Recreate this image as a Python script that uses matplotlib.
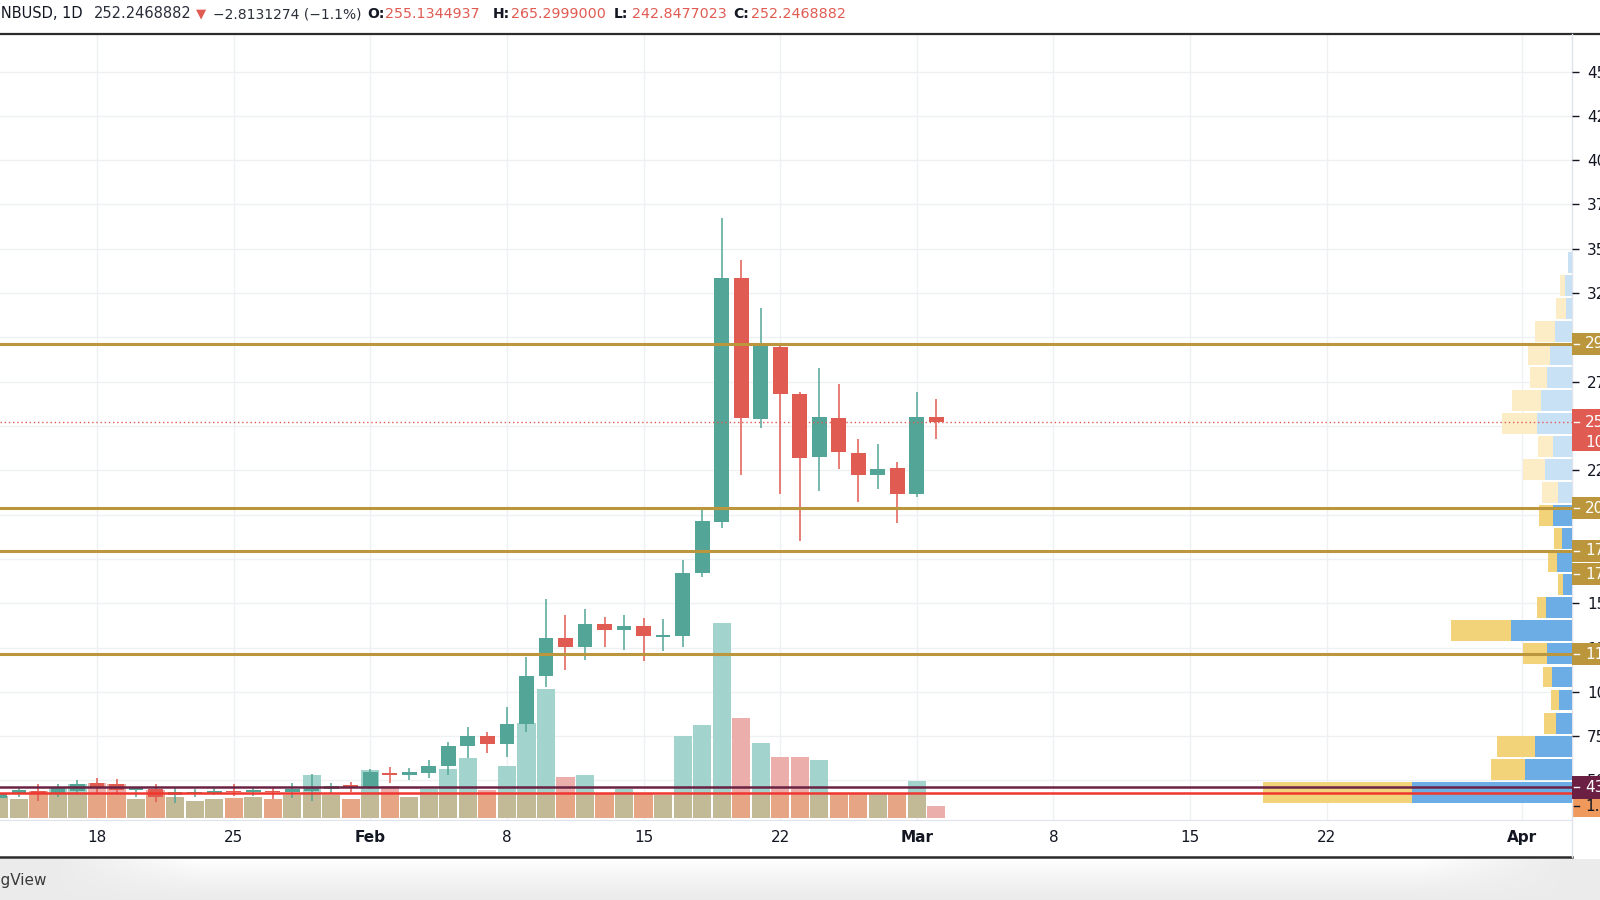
import numpy as np
import pandas as pd
import matplotlib
matplotlib.use("Agg")
import matplotlib.pyplot as plt
import matplotlib.dates as mdates
from matplotlib.lines import Line2D
from matplotlib.patches import Rectangle
from matplotlib.transforms import blended_transform_factory

plt.rcParams['font.family'] = ['DejaVu Sans']

# ---- BNBUSD daily candles ----
dates = pd.date_range('2021-01-13', '2021-03-02', freq='D')
opens = [39.9, 42.4, 44.3, 42.4, 44.3, 48.4, 48.0, 44.6, 45.0, 41.8, 42.8, 42.8, 44.3, 43.3, 44.1, 43.3, 44.3, 45.0, 47.5,
         46.0, 54.0, 53.1, 54.4, 58.2, 69.5, 75.1, 70.6, 81.7, 109.0, 130.2, 125.5, 138.3, 134.9, 137.2, 131.0, 131.5,
         166.8, 196.0, 333.7, 253.8, 294.7, 267.9, 232.3, 254.5, 234.9, 222.4, 226.3, 211.5, 255.1344937]
highs = [43.5, 46.1, 47.8, 47.8, 50.3, 51.2, 50.7, 46.5, 48.0, 45.6, 45.0, 46.0, 48.0, 46.0, 46.0, 48.4, 53.7, 48.8, 49.4,
         56.5, 57.8, 56.9, 61.6, 71.9, 80.0, 77.6, 91.3, 119.9, 152.2, 143.4, 146.6, 142.4, 143.4, 141.9, 140.9, 174.4,
         203.2, 367.2, 343.7, 316.4, 295.7, 269.4, 282.9, 273.5, 242.7, 239.8, 229.9, 269.0, 265.2999000]
lows = [39.5, 40.5, 38.4, 40.9, 42.8, 42.8, 42.8, 40.9, 37.7, 37.1, 40.9, 41.8, 41.3, 41.3, 39.6, 39.9, 38.6, 43.1, 43.7,
        45.0, 48.8, 50.3, 51.2, 53.1, 62.5, 65.7, 63.1, 77.6, 103.0, 112.3, 118.0, 125.1, 123.6, 117.4, 123.2, 125.1,
        165.0, 192.3, 222.4, 249.0, 211.6, 185.3, 213.5, 225.6, 207.3, 214.3, 195.5, 209.8, 242.8477023]
closes = [42.8, 44.6, 42.8, 45.6, 48.0, 45.6, 44.6, 45.6, 40.5, 43.7, 43.7, 44.3, 43.3, 44.6, 43.3, 45.0, 46.5, 47.1, 46.1,
          55.0, 53.1, 54.6, 58.2, 69.7, 75.1, 70.4, 81.9, 109.1, 130.2, 125.5, 138.3, 134.9, 137.4, 131.5, 131.9, 166.9,
          196.6, 333.3, 254.3, 295.7, 267.9, 231.8, 255.0, 235.3, 222.4, 225.9, 211.5, 255.0600156, 252.2468882]
# volume, millions
volumes = [2.44, 2.08, 3.03, 3.30, 3.78, 3.86, 3.78, 2.08, 3.11, 2.30, 1.92, 2.08, 2.26, 2.30, 2.14, 2.56, 4.78, 2.56, 2.08,
           5.33, 3.56, 2.30, 3.19, 5.44, 6.63, 3.11, 5.78, 10.52, 14.33, 4.59, 4.78, 2.74, 3.19, 2.74, 2.56, 9.11,
           10.33, 21.63, 11.14, 8.37, 6.81, 6.74, 6.41, 2.74, 2.74, 2.74, 2.74, 4.11, 1.33]
countdown = '10:26:41'

# ---- fixed range volume profile (rows of 13 USD) ----
vp_first_row = 37.5
vp_row_size = 13.0
vp_up = [80.0, 23.4, 18.4, 7.9, 6.4, 10.0, 12.5, 30.5, 12.9, 4.2, 7.5, 5.0, 9.2,
         7.0, 13.4, 9.2, 17.2, 15.4, 12.2, 10.9, 8.4, 2.9, 3.4, 1.7]
vp_down = [74.2, 17.0, 18.9, 5.9, 4.0, 4.5, 12.0, 30.0, 4.7, 2.5, 4.2, 3.9, 7.2,
           7.7, 10.9, 7.8, 17.8, 14.4, 8.7, 10.9, 10.0, 5.0, 2.5, 0.0]
vp_value_area_rows = 13

# ---- drawn levels ----
gold_levels = [296.3, 203.7, 179.5, 121.2]
gold_texts = ['296.30', '203.70', '179.50', '119.20']
extra_label = (166.5, '175.10')
maroon_level = 46.2
red_level = 43.2
maroon_text = '43.2000'

price_ticks = list(range(50, 451, 25))
hidden_ticks = [300, 250, 200, 175]   # covered by the scale labels
tick_dates = ['2021-01-18', '2021-01-25', '2021-02-01', '2021-02-08', '2021-02-15', '2021-02-22',
              '2021-03-01', '2021-03-08', '2021-03-15', '2021-03-22', '2021-04-01']
tick_labels = ['18', '25', 'Feb', '8', '15', '22', 'Mar', '8', '15', '22', 'Apr']

# ---- colours ----
TEAL, RED = '#53a597', '#e05b52'
VOL_TEAL, VOL_RED = '#a2d3cd', '#ebaeab'
GOLD = '#bb963c'
TXT = '#131722'

# ---- layout ----
W, H = 1600, 900
right_px, top_px, bot_px = 1571.7, 34, 820
rect = [0, 1 - bot_px / H, right_px / W, (bot_px - top_px) / H]
fig = plt.figure(figsize=(16, 9), dpi=100)

ax_bg = fig.add_axes(rect, zorder=0)
ax_v = fig.add_axes(rect, sharex=ax_bg, zorder=1)
ax_p = fig.add_axes(rect, sharey=ax_bg, zorder=2)
ax = fig.add_axes(rect, sharex=ax_bg, sharey=ax_bg, zorder=3)

x = mdates.date2num(dates)
o, h, l, c = map(np.array, (opens, highs, lows, closes))
vol = np.array(volumes)
up = c >= o
day0 = mdates.date2num(pd.Timestamp('2021-01-18'))
ymin, ymax = 27.7, 471.2
ax.set_xlim(day0 - 97 / 19.52, day0 + (right_px - 97) / 19.52)
ax.set_ylim(ymin, ymax)
ppu = (bot_px - top_px) / (ymax - ymin)

# background grid
ax_bg.set_facecolor('white')
ax_bg.grid(True, color='#eef0f3', lw=1)
ax_bg.tick_params(left=False, bottom=False, right=False, labelleft=False, labelbottom=False)
for sp in ax_bg.spines.values():
    sp.set_visible(False)

# volume
ax_v.axis('off')
ax_v.set_ylim(-2 / 9, (bot_px - top_px - 2) / 9)
ax_v.bar(x, vol, width=0.93, color=np.where(up, VOL_TEAL, VOL_RED))
ax_v.bar(x[:-1], np.minimum(vol[:-1], 2.6), width=0.93, color='#e2a060', alpha=0.5)

# volume profile
ax_p.axis('off')
ax_p.set_xlim(right_px / 2, 0)
rows = vp_first_row + vp_row_size * np.arange(len(vp_up))
vp_u, vp_d = np.array(vp_up), np.array(vp_down)
in_va = np.arange(len(vp_up)) < vp_value_area_rows
ax_p.barh(rows + 5.9, vp_u, height=11.8, left=0, color=np.where(in_va, '#6dade6', '#c9e1f5'))
ax_p.barh(rows + 5.9, vp_d, height=11.8, left=vp_u, color=np.where(in_va, '#f2d37a', '#fcedc6'))

# candles
cols = np.where(up, TEAL, RED)
ax.vlines(x, l, h, colors=cols, lw=1.1, zorder=3)
ax.bar(x, np.maximum(np.abs(c - o), 0.9), bottom=np.minimum(o, c), width=0.76, color=cols, zorder=4)

# levels
for lv in gold_levels:
    ax.axhline(lv, color=GOLD, lw=2.2, zorder=6)
ax.axhline(maroon_level, color='#6b2343', lw=1.8, zorder=6)
ax.axhline(red_level, color='#f0372e', lw=1.8, zorder=6)
ax.axhline(c[-1], color=RED, lw=1, ls=(0, (1, 2)), zorder=5)

# axes styling
ax.patch.set_visible(False)
for sp in ['top', 'left', 'right']:
    ax.spines[sp].set_visible(False)
ax.spines['bottom'].set_color('#e0e3eb')
ax.yaxis.tick_right()
ax.set_yticks(price_ticks)
ax.set_yticklabels(['' if t in hidden_ticks else str(t) for t in price_ticks])
ax.tick_params(axis='y', right=True, left=False, length=5, width=1, color=TXT, pad=6,
               labelsize=11, labelcolor=TXT)
ax.set_xticks(mdates.date2num(pd.to_datetime(tick_dates)))
ax.set_xticklabels(tick_labels)
ax.tick_params(axis='x', length=0, pad=7, labelsize=11, labelcolor=TXT)
for lab in ax.get_xticklabels():
    if lab.get_text() in ('Feb', 'Mar', 'Apr'):
        lab.set_fontweight('bold')

# price scale labels
trans = blended_transform_factory(ax.transAxes, ax.transData)
tx = 1 + 13.3 / right_px


def scale_label(axis, tr, y, text, face, tc='white', above=11, below=11, zo=20):
    axis.add_patch(Rectangle((1.0, y - below), 40 / right_px, above + below, transform=tr,
                             facecolor=face, edgecolor='none', clip_on=False, zorder=zo))
    axis.add_line(Line2D([1.0012, 1.0045], [y, y], transform=tr, color=tc, lw=1,
                         clip_on=False, zorder=zo + 1))
    axis.text(tx, y, text, transform=tr, color=tc, fontsize=11, va='center', ha='left',
              clip_on=False, zorder=zo + 1)


for lv, t in zip(gold_levels, gold_texts):
    scale_label(ax, trans, lv, t, GOLD, above=11 / ppu, below=11 / ppu)
scale_label(ax, trans, extra_label[0], extra_label[1], GOLD, above=11 / ppu, below=11 / ppu, zo=22)
scale_label(ax, trans, c[-1], f'{c[-1]:.4f}', RED, above=13.5 / ppu, below=28.5 / ppu)
ax.text(tx, c[-1] - 20 / ppu, countdown, transform=trans, color='white', fontsize=11,
        va='center', ha='left', clip_on=False, zorder=21)
scale_label(ax, trans, maroon_level, maroon_text, '#6b1f43', above=11 / ppu, below=11.5 / ppu)
vtrans = blended_transform_factory(ax_v.transAxes, ax_v.transData)
scale_label(ax_v, vtrans, vol[-1], f'{vol[-1]:.3f}M', '#f0995c', tc=TXT, above=10.5 / 9, below=10.5 / 9)

# header
hy = 1 - 14 / H
chg = c[-1] - c[-2]
pct = chg / c[-2] * 100
fig.text(83 / W, hy, 'BNBUSD, 1D', ha='right', va='center', fontsize=10.5, color=TXT)
fig.text(94 / W, hy, f'{c[-1]:.7f}', va='center', fontsize=10.5, color='#2a2e39')
fig.text(196 / W, hy, '\u25bc', va='center', fontsize=9.5, color=RED)
fig.text(213 / W, hy, f'{chg:.7f} ({pct:.1f}%)'.replace('-', '\u2212'), va='center', fontsize=10,
         color='#2a2e39')
for lx, key, val in [(367, 'O:', o[-1]), (493, 'H:', h[-1]), (614, 'L:', l[-1]), (733, 'C:', c[-1])]:
    fig.text(lx / W, hy, key, va='center', fontsize=10, color=TXT, fontweight='bold')
    fig.text((lx + 18) / W, hy, f'{val:.7f}', va='center', fontsize=10.3, color=RED)

# frame lines
fig.add_artist(Line2D([0, 1], [1 - top_px / H, 1 - top_px / H], color='#2b2b2b', lw=1.6))
fig.add_artist(Line2D([0, right_px / W], [1 - 857 / H, 1 - 857 / H], color='#2b2b2b', lw=1.8))
fig.add_artist(Line2D([right_px / W, right_px / W], [1 - 857 / H, 1 - top_px / H], color='#e0e3eb', lw=1))

# footer
ax_f = fig.add_axes([0, 0, 1, 41 / H], zorder=0)
yy = np.linspace(0, 1, 41)[:, None]
xx = np.arange(W)[None, :]
mx = np.clip((xx - 60) / 140, 0, 1) * np.clip((1560 - xx) / 140, 0, 1)
val = 0.925 + 0.075 * mx * (1 - yy) ** 1.3
ax_f.imshow(np.dstack([val] * 3), aspect='auto', extent=[0, 1, 0, 1])
ax_f.axis('off')
fig.text(46 / W, 1 - 881 / H, 'TradingView', ha='right', va='center', fontsize=11, color='#3a3a3a')

fig.savefig('out.png', dpi=100)
